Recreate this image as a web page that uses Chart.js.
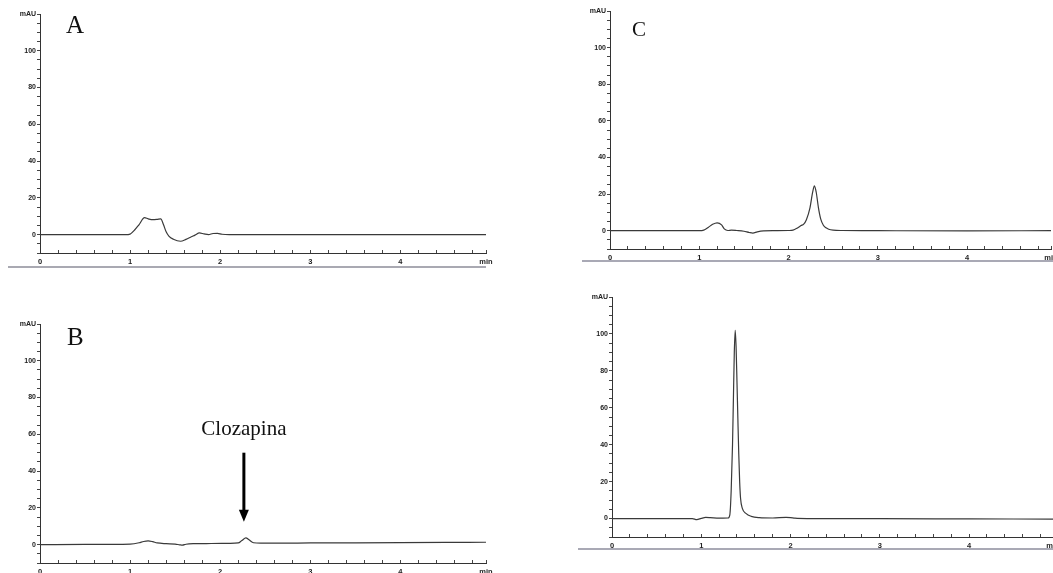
<!DOCTYPE html>
<html><head><meta charset="utf-8">
<script src="https://cdn.jsdelivr.net/npm/chart.js@4"></script>
<style>
html,body{margin:0;padding:0;background:#fff;overflow:hidden;width:1053px;height:573px;position:relative;}
.p{position:absolute;}
.lab{position:absolute;font-family:"Liberation Serif","Times New Roman",serif;color:#111;line-height:1;}
</style></head><body>
<div class="p" style="left:0;top:0"><canvas id="cA" width="500" height="275"></canvas></div>
<div class="p" style="left:0;top:310px"><canvas id="cB" width="500" height="275"></canvas></div>
<div class="p" style="left:570px;top:0"><canvas id="cC" width="500" height="271"></canvas></div>
<div class="p" style="left:572px;top:283px"><canvas id="cD" width="500" height="276"></canvas></div>
<div class="lab" style="left:66px;top:12px;font-size:25px">A</div>
<div class="lab" style="left:67px;top:324px;font-size:25px">B</div>
<div class="lab" style="left:632px;top:19px;font-size:21px">C</div>
<script>
// ---- data (time in min, absorbance in mAU) ----
const tA = [0, 0.5, 0.95, 1.0, 1.05, 1.1, 1.16, 1.2, 1.25, 1.3, 1.34, 1.37, 1.4, 1.43, 1.48, 1.56, 1.62, 1.68, 1.72, 1.77, 1.82, 1.87, 1.92, 1.97, 2.02, 2.1, 2.5, 3, 3.5, 4, 4.5, 4.95];
const yA = [0, 0, 0, 0.3, 2.5, 5.5, 9.2, 8.6, 8.1, 8.3, 8.6, 5.5, 1.5, -0.8, -2.5, -3.6, -2.6, -1.2, -0.3, 0.9, 0.4, 0, 0.6, 0.7, 0.2, 0, 0, 0, 0, 0, 0, 0];

const tB = [0, 0.5, 1.0, 1.1, 1.15, 1.2, 1.25, 1.3, 1.4, 1.5, 1.55, 1.58, 1.62, 1.7, 1.9, 2.1, 2.2, 2.24, 2.285, 2.32, 2.37, 2.45, 2.6, 3, 3.5, 4, 4.5, 4.95];
const yB = [0, 0.1, 0.3, 1.0, 1.7, 2.0, 1.6, 0.9, 0.5, 0.3, -0.1, -0.3, 0.2, 0.5, 0.6, 0.7, 0.9, 2.2, 3.7, 2.6, 1.0, 0.8, 0.8, 0.9, 1.0, 1.1, 1.2, 1.3];

const tC = [0, 0.5, 1.0, 1.05, 1.1, 1.15, 1.2, 1.25, 1.28, 1.32, 1.36, 1.42, 1.5, 1.56, 1.6, 1.65, 1.72, 1.85, 2.0, 2.05, 2.1, 2.14, 2.17, 2.2, 2.24, 2.27, 2.29, 2.31, 2.335, 2.36, 2.39, 2.42, 2.45, 2.5, 2.6, 3, 4, 4.94];
const yC = [0, 0, 0, 0.3, 1.8, 3.5, 4.3, 3.2, 1.0, 0.1, 0.3, 0.1, -0.3, -1.0, -1.3, -0.6, -0.1, 0, 0.1, 0.3, 1.5, 2.8, 3.6, 6, 12.5, 21, 24.5, 21, 12.5, 6.5, 3, 1.6, 0.8, 0.3, 0.1, 0, -0.1, 0];

const tD = [0, 0.5, 0.9, 0.95, 1.0, 1.05, 1.1, 1.2, 1.3, 1.32, 1.335, 1.35, 1.36, 1.37, 1.38, 1.39, 1.40, 1.41, 1.42, 1.43, 1.44, 1.46, 1.5, 1.56, 1.65, 1.8, 1.95, 2.0, 2.05, 2.2, 3, 4, 4.94];
const yD = [0, 0, 0, -0.6, 0.1, 0.6, 0.5, 0.2, 0.3, 2, 15, 40, 65, 90, 102, 93, 74, 54, 35, 20, 11, 5.5, 2.8, 1.2, 0.5, 0.3, 0.6, 0.5, 0.2, 0, -0.1, -0.2, -0.3];

const yTickLabels = [0, 20, 40, 60, 80, 100];
const xTickLabels = [0, 1, 2, 3, 4];
const yUnit = 'mAU';
const xUnit = 'min';
const noteB = {x: 2.285, from: 50, to: 12.5, textAt: 59.5, text: 'Clozapina'};

// ---- plugins ----
const scanLine = {
  id: 'scanLine',
  afterDraw(chart, args, o) {
    if (!o || !o.show) return;
    const {ctx, chartArea: a} = chart;
    ctx.save();
    ctx.strokeStyle = o.color || '#8a8a96';
    ctx.lineWidth = 1.4;
    ctx.beginPath();
    ctx.moveTo(a.left - o.left, a.bottom + o.offset);
    ctx.lineTo(a.right + (o.right || 0), a.bottom + o.offset);
    ctx.stroke();
    ctx.restore();
  }
};
const arrowNote = {
  id: 'arrowNote',
  afterDatasetsDraw(chart, args, o) {
    if (!o || !o.text) return;
    const {ctx} = chart;
    const xs = chart.scales.x, ys = chart.scales.y;
    const px = xs.getPixelForValue(o.x) - 2;
    const yTop = ys.getPixelForValue(o.from), yTip = ys.getPixelForValue(o.to);
    ctx.save();
    ctx.fillStyle = '#000'; ctx.strokeStyle = '#000';
    ctx.lineWidth = 3;
    ctx.beginPath(); ctx.moveTo(px, yTop); ctx.lineTo(px, yTip - 10); ctx.stroke();
    ctx.beginPath(); ctx.moveTo(px - 5, yTip - 12); ctx.lineTo(px + 5, yTip - 12); ctx.lineTo(px, yTip); ctx.closePath(); ctx.fill();
    ctx.font = '21px "Liberation Serif", "Times New Roman", serif';
    ctx.textAlign = 'center'; ctx.textBaseline = 'alphabetic';
    ctx.fillStyle = '#111';
    ctx.fillText(o.text, px, ys.getPixelForValue(o.textAt));
    ctx.restore();
  }
};
Chart.register(scanLine, arrowNote);

function makeChart(id, t, y, xMax, pad, extra) {
  const pts = t.map((v, i) => ({x: v, y: y[i]}));
  const xt = [];
  for (let i = 0; i * 0.2 < xMax - 0.1; i++) xt.push(Math.round(i * 2) / 10);
  xt.push(xMax);
  const yt = [];
  for (let v = -10; v <= 120; v += 5) yt.push(v);
  return new Chart(document.getElementById(id), {
    type: 'line',
    data: {datasets: [{data: pts, borderColor: '#3a3a3a', borderWidth: 1.2, pointRadius: 0,
      cubicInterpolationMode: 'monotone', fill: false}]},
    options: {
      responsive: false, animation: false,
      layout: {padding: pad},
      plugins: {legend: {display: false}, tooltip: {enabled: false},
        scanLine: extra.scan || {}, arrowNote: extra.note || {}},
      scales: {
        x: {type: 'linear', min: 0, max: xMax,
          afterBuildTicks: s => { s.ticks = xt.map(v => ({value: v})); },
          afterFit: s => { s.height = 22; },
          border: {display: true, color: '#333', width: 1},
          grid: {display: true, drawOnChartArea: false, drawTicks: true, tickLength: -3, color: '#444'},
          ticks: {autoSkip: false, maxRotation: 0, padding: 7, color: '#222',
            font: {family: 'Liberation Sans, Arial, sans-serif', size: 7.5, weight: 'bold'},
            callback: v => (Math.abs(v - xMax) < 1e-6 ? xUnit :
              (xTickLabels.some(k => Math.abs(k - v) < 1e-6) ? String(Math.round(v)) : ''))}
        },
        y: {type: 'linear', min: -10, max: 120,
          afterBuildTicks: s => { s.ticks = yt.map(v => ({value: v})); },
          afterFit: s => { s.width = 40 - (pad.left || 0); },
          border: {display: true, color: '#333', width: 1},
          grid: {display: true, drawOnChartArea: false, drawTicks: true, tickLength: 3, color: '#444'},
          ticks: {autoSkip: false, padding: 1, color: '#222',
            font: {family: 'Liberation Sans, Arial, sans-serif', size: 7, weight: 'bold'},
            callback: v => (v === 120 ? yUnit : (yTickLabels.includes(v) ? String(v) : ''))}
        }
      }
    }
  });
}

makeChart('cA', tA, yA, 4.95, {top: 14, right: 14, left: 0, bottom: 0},
  {scan: {show: true, left: 32, offset: 14, color: '#8c8c98'}});
makeChart('cB', tB, yB, 4.95, {top: 14, right: 14, left: 0, bottom: 0},
  {note: noteB});
makeChart('cC', tC, yC, 4.94, {top: 11, right: 19, left: 0, bottom: 0},
  {scan: {show: true, left: 28, offset: 12, right: 5, color: '#8c8c9c'}});
makeChart('cD', tD, yD, 4.94, {top: 14, right: 19, left: 0, bottom: 0},
  {scan: {show: true, left: 34, offset: 12, right: 5, color: '#8c8c9c'}});
</script>
</body></html>
